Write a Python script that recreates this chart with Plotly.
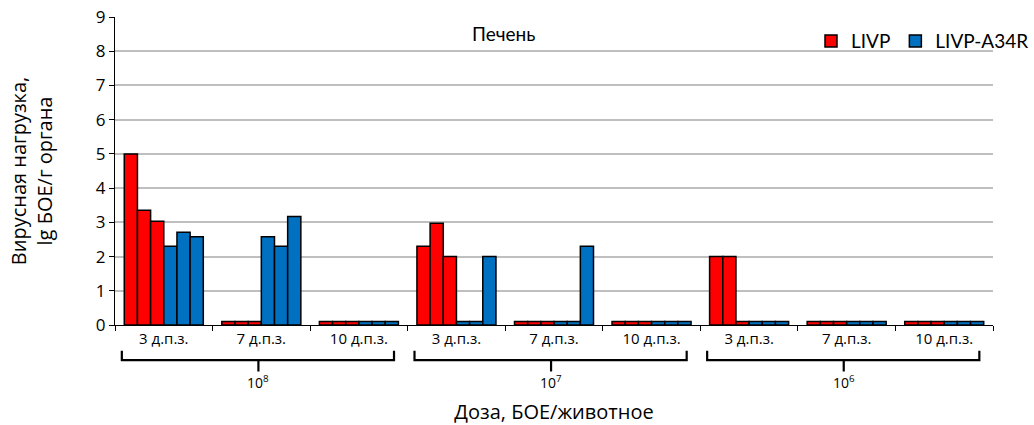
import plotly.graph_objects as go

doses = ["10<sup>8</sup>", "10<sup>7</sup>", "10<sup>6</sup>"]
days = ["3 д.п.з.", "7 д.п.з.", "10 д.п.з."]
categories = [f"{d}|{t}" for d in ["1e8", "1e7", "1e6"] for t in ["3", "7", "10"]]
tick_labels = [t for _ in doses for t in days]
y_ticks = list(range(0, 10))

# three animals per virus, values per category (lg PFU / g organ)
livp_1 = [5.0, 0.1, 0.1, 2.3, 0.1, 0.1, 2.0, 0.1, 0.1]
livp_2 = [3.35, 0.1, 0.1, 2.97, 0.1, 0.1, 2.0, 0.1, 0.1]
livp_3 = [3.03, 0.1, 0.1, 2.0, 0.1, 0.1, 0.1, 0.1, 0.1]
a34r_1 = [2.3, 2.58, 0.1, 0.1, 0.1, 0.1, 0.1, 0.1, 0.1]
a34r_2 = [2.71, 2.3, 0.1, 0.1, 0.1, 0.1, 0.1, 0.1, 0.1]
a34r_3 = [2.58, 3.17, 0.1, 2.0, 2.3, 0.1, 0.1, 0.1, 0.1]

RED = "#FF0000"
BLUE = "#0070C0"
FONT = "Open Sans"

fig = go.Figure()
series = [
    ("LIVP", livp_1, RED, True),
    ("LIVP", livp_2, RED, False),
    ("LIVP", livp_3, RED, False),
    ("LIVP-A34R", a34r_1, BLUE, True),
    ("LIVP-A34R", a34r_2, BLUE, False),
    ("LIVP-A34R", a34r_3, BLUE, False),
]
for name, vals, col, show in series:
    fig.add_trace(go.Bar(
        x=categories, y=vals, name=name, legendgroup=name, showlegend=show,
        marker=dict(color=col, line=dict(color="black", width=1.5)),
    ))

shapes = []
annotations = []
for i, d in enumerate(doses):
    start = 3 * i
    x0, x1, xc = start - 0.43, start + 2.36, start + 0.97
    path = (f"M {x0},-0.084 L {x0},-0.114 L {x1},-0.114 L {x1},-0.084 "
            f"M {xc},-0.114 L {xc},-0.151")
    shapes.append(dict(type="path", path=path, xref="x", yref="paper",
                       line=dict(color="black", width=2.2)))
    annotations.append(dict(x=xc, y=-0.185, xref="x", yref="paper", text=d,
                            showarrow=False, yanchor="middle",
                            font=dict(family=FONT, size=14, color="black")))

annotations.append(dict(x=0.442, y=0.945, xref="paper", yref="paper", text="Печень",
                        showarrow=False, yanchor="middle",
                        font=dict(family="Lato", size=19, color="black")))

fig.update_layout(
    width=1034, height=425,
    margin=dict(l=115, r=41, t=17, b=100, autoexpand=False),
    paper_bgcolor="white", plot_bgcolor="white",
    barmode="group", bargap=0.19, bargroupgap=0,
    font=dict(family=FONT, color="black"),
    shapes=shapes, annotations=annotations,
    legend=dict(orientation="h", xref="container", yref="container",
                x=1.0, xanchor="right", y=0.948, yanchor="top",
                font=dict(family="Lato", size=19, color="black"),
                bgcolor="rgba(0,0,0,0)", itemwidth=30, tracegroupgap=0),
    xaxis=dict(
        type="category", tickmode="array", tickvals=categories, ticktext=tick_labels,
        tickson="boundaries", ticks="outside", ticklen=5, tickcolor="black",
        showline=True, linecolor="black", linewidth=1, automargin=False,
        tickfont=dict(family=FONT, size=15, color="black"),
        title=dict(text="Доза, БОЕ/животное", font=dict(family=FONT, size=20), standoff=59),
    ),
    yaxis=dict(
        range=[0, 9.0001], tickmode="array", tickvals=y_ticks,
        ticks="outside", ticklen=5, tickcolor="black",
        showline=True, linecolor="black", linewidth=1, automargin=False,
        showgrid=True, gridcolor="#BFBFBF", gridwidth=1.5,
        tickfont=dict(family=FONT, size=17, color="black"),
        title=dict(text="Вирусная нагрузка,<br>lg БОЕ/г органа",
                   font=dict(family=FONT, size=20), standoff=37),
    ),
)

# remove the default 8px page margin so the figure fills the window exactly
fig.write_html("out.html", config={"displayModeBar": False},
               post_script="document.body.style.margin='0';")
